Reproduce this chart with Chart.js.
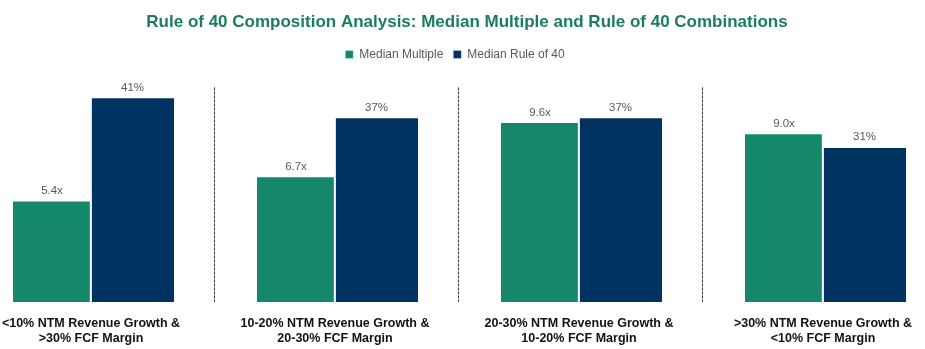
<!DOCTYPE html>
<html>
<head>
<meta charset="utf-8">
<script src="https://cdn.jsdelivr.net/npm/chart.js@4.4.1/dist/chart.umd.min.js"></script>
<style>
  html, body { margin: 0; padding: 0; background: #fff; }
  #wrap { width: 925px; height: 349px; position: relative; }
</style>
</head>
<body>
<div id="wrap"><canvas id="chart"></canvas></div>
<script>
// bucket labels (growth band & margin band), two lines each
const CATEGORIES = [
  ['<10% NTM Revenue Growth &', '>30% FCF Margin'],
  ['10-20% NTM Revenue Growth &', '20-30% FCF Margin'],
  ['20-30% NTM Revenue Growth &', '10-20% FCF Margin'],
  ['>30% NTM Revenue Growth &', '<10% FCF Margin'],
];
const MEDIAN_MULTIPLE   = [5.4, 6.7, 9.6, 9.0];
const MEDIAN_RULE_OF_40 = [41, 37, 37, 31];

const GREEN = '#15876b';
const NAVY  = '#003361';
const FONT  = '"Liberation Sans", Arial, sans-serif';

// value labels above every bar
const valueLabels = {
  id: 'valueLabels',
  afterDatasetsDraw(chart) {
    const ctx = chart.ctx;
    ctx.save();
    ctx.font = `11.5px ${FONT}`;
    ctx.fillStyle = '#595959';
    ctx.textAlign = 'center';
    ctx.textBaseline = 'bottom';
    chart.data.datasets.forEach((ds, i) => {
      chart.getDatasetMeta(i).data.forEach((bar, j) => {
        ctx.fillText(ds.fmt(ds.data[j]), bar.x, bar.y - 5);
      });
    });
    ctx.restore();
  }
};

// dashed separators halfway between buckets
const dividers = {
  id: 'dividers',
  beforeDatasetsDraw(chart) {
    const { ctx, chartArea, scales: { x } } = chart;
    ctx.save();
    ctx.strokeStyle = '#3a3a3a';
    ctx.lineWidth = 1;
    ctx.setLineDash([3, 1]);
    for (let i = 0; i < CATEGORIES.length - 1; i++) {
      const px = Math.round((x.getPixelForValue(i) + x.getPixelForValue(i + 1)) / 2) + 1.5;
      ctx.beginPath();
      ctx.moveTo(px, chartArea.top + 9);
      ctx.lineTo(px, chartArea.bottom);
      ctx.stroke();
    }
    ctx.restore();
  }
};

// a bit more room under the legend
const legendGap = {
  id: 'legendGap',
  beforeInit(chart) {
    const fit = chart.legend.fit;
    chart.legend.fit = function () {
      fit.call(this);
      this.height += 8;
    };
  }
};

// title sits a little right of the plot centre, legend a touch left
const headerNudge = {
  id: 'headerNudge',
  afterLayout(chart) {
    const t = chart.titleBlock;
    t.left += 10; t.right += 10;
    const l = chart.legend;
    l.left -= 2; l.right -= 2;
  }
};

new Chart(document.getElementById('chart'), {
  type: 'bar',
  data: {
    labels: CATEGORIES,
    datasets: [
      {
        label: 'Median Multiple',
        data: MEDIAN_MULTIPLE,
        fmt: v => v.toFixed(1) + 'x',
        backgroundColor: GREEN,
        borderColor: '#fff',
        borderWidth: { top: 0, left: 0, bottom: 0, right: 1.5 },
        borderSkipped: false,
        barThickness: 78,
        yAxisID: 'y',
        clip: false,
      },
      {
        label: 'Median Rule of 40',
        data: MEDIAN_RULE_OF_40,
        fmt: v => v + '%',
        backgroundColor: NAVY,
        borderColor: '#fff',
        borderWidth: { top: 0, left: 1.2, bottom: 0, right: 0 },
        borderSkipped: false,
        barThickness: 83,
        yAxisID: 'y1',
        clip: false,
      },
    ],
  },
  options: {
    responsive: true,
    maintainAspectRatio: false,
    animation: false,
    layout: { padding: { left: 91, right: 102, top: 0, bottom: 0 } },
    plugins: {
      title: {
        display: true,
        text: 'Rule of 40 Composition Analysis: Median Multiple and Rule of 40 Combinations',
        color: '#1a7d5f',
        font: { family: FONT, size: 17, weight: 'bold' },
        padding: { top: 12, bottom: 6 },
      },
      legend: {
        position: 'top',
        labels: {
          color: '#595959',
          font: { family: FONT, size: 12 },
          boxWidth: 8,
          boxHeight: 8,
          padding: 10,
        },
      },
      tooltip: { enabled: false },
    },
    scales: {
      x: {
        offset: false,
        grid: { display: false, drawTicks: false, tickLength: 0 },
        border: { display: false },
        ticks: {
          color: '#111',
          font: { family: FONT, size: 12.5, weight: 'bold' },
          padding: 14,
          maxRotation: 0,
          autoSkip: false,
        },
        afterFit(scale) {
          scale.paddingLeft = 0;
          scale.paddingRight = 0;
          scale.height = 47;
        },
      },
      y: { display: false, min: 0, max: 12 },
      y1: { display: false, min: 0, max: 45 },
    },
  },
  plugins: [legendGap, headerNudge, dividers, valueLabels],
});
</script>
</body>
</html>
